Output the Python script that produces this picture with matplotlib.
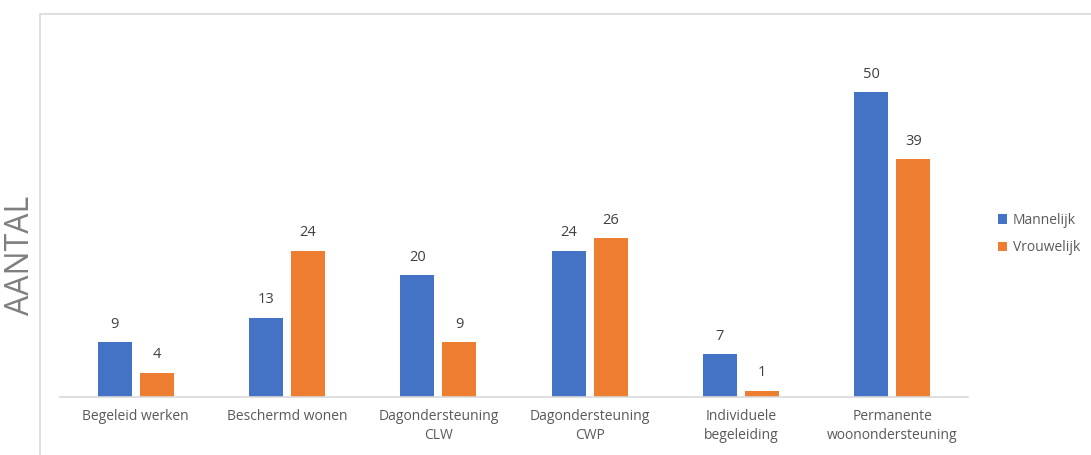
import matplotlib
matplotlib.use("Agg")
import matplotlib.pyplot as plt
import numpy as np
from matplotlib.patches import Rectangle

categories = ["Begeleid werken", "Beschermd wonen", "Dagondersteuning\nCLW",
              "Dagondersteuning\nCWP", "Individuele\nbegeleiding",
              "Permanente\nwoonondersteuning"]
mannelijk = [9, 13, 20, 24, 7, 50]
vrouwelijk = [4, 24, 9, 26, 1, 39]
series_names = ["Mannelijk", "Vrouwelijk"]
colors = ["#4472C4", "#ED7D31"]

plt.rcParams['font.family'] = ['Open Sans', 'DejaVu Sans']

W, H = 1091, 455
fig = plt.figure(figsize=(W / 100, H / 100), dpi=100)

# outer chart frame
fig.patches.append(Rectangle((40 / W, -0.1), 1.2, (H - 14) / H + 0.1,
                             transform=fig.transFigure, fill=False,
                             edgecolor="#d9d9d9", linewidth=1.2))

ax_left, ax_right = 60, 968
ax_bottom = H - 397
ymax = 55
ax_height = 6.1 * ymax
ax = fig.add_axes([ax_left / W, ax_bottom / H, (ax_right - ax_left) / W, ax_height / H])

x = np.arange(len(categories))
bw = 0.225
gap = 0.053
off = (bw + gap) / 2
b1 = ax.bar(x - off, mannelijk, bw, color=colors[0], label=series_names[0])
b2 = ax.bar(x + off, vrouwelijk, bw, color=colors[1], label=series_names[1])

for bars, vals in ((b1, mannelijk), (b2, vrouwelijk)):
    for rect, v in zip(bars, vals):
        ax.annotate(str(v), (rect.get_x() + rect.get_width() / 2, v),
                    xytext=(0, 7.5), textcoords="offset points",
                    ha="center", va="bottom", fontsize=10.5, color="#404040")

ax.set_xlim(-0.5, len(categories) - 0.5)
ax.set_ylim(0, ymax)
ax.set_xticks(x)
ax.set_xticklabels(categories, fontsize=10, color="#595959", linespacing=1.35)
ax.tick_params(axis="x", length=0, pad=9)
ax.set_yticks([])
for s in ("top", "right", "left"):
    ax.spines[s].set_visible(False)
ax.spines["bottom"].set_color("#d9d9d9")
ax.spines["bottom"].set_linewidth(1.2)

fig.text(21 / W, 1 - 255 / H, "AANTAL", rotation=90, fontsize=23,
         color="#7f7f7f", ha="center", va="center")

leg = fig.legend(handles=[b1, b2], labels=series_names, loc="center left",
                 bbox_to_anchor=(985 / W, 1 - 234 / H), frameon=False,
                 fontsize=10, handlelength=0.7, handleheight=0.7,
                 handletextpad=0.4, labelspacing=0.9, labelcolor="#595959")

fig.savefig("out.png", dpi=100)
